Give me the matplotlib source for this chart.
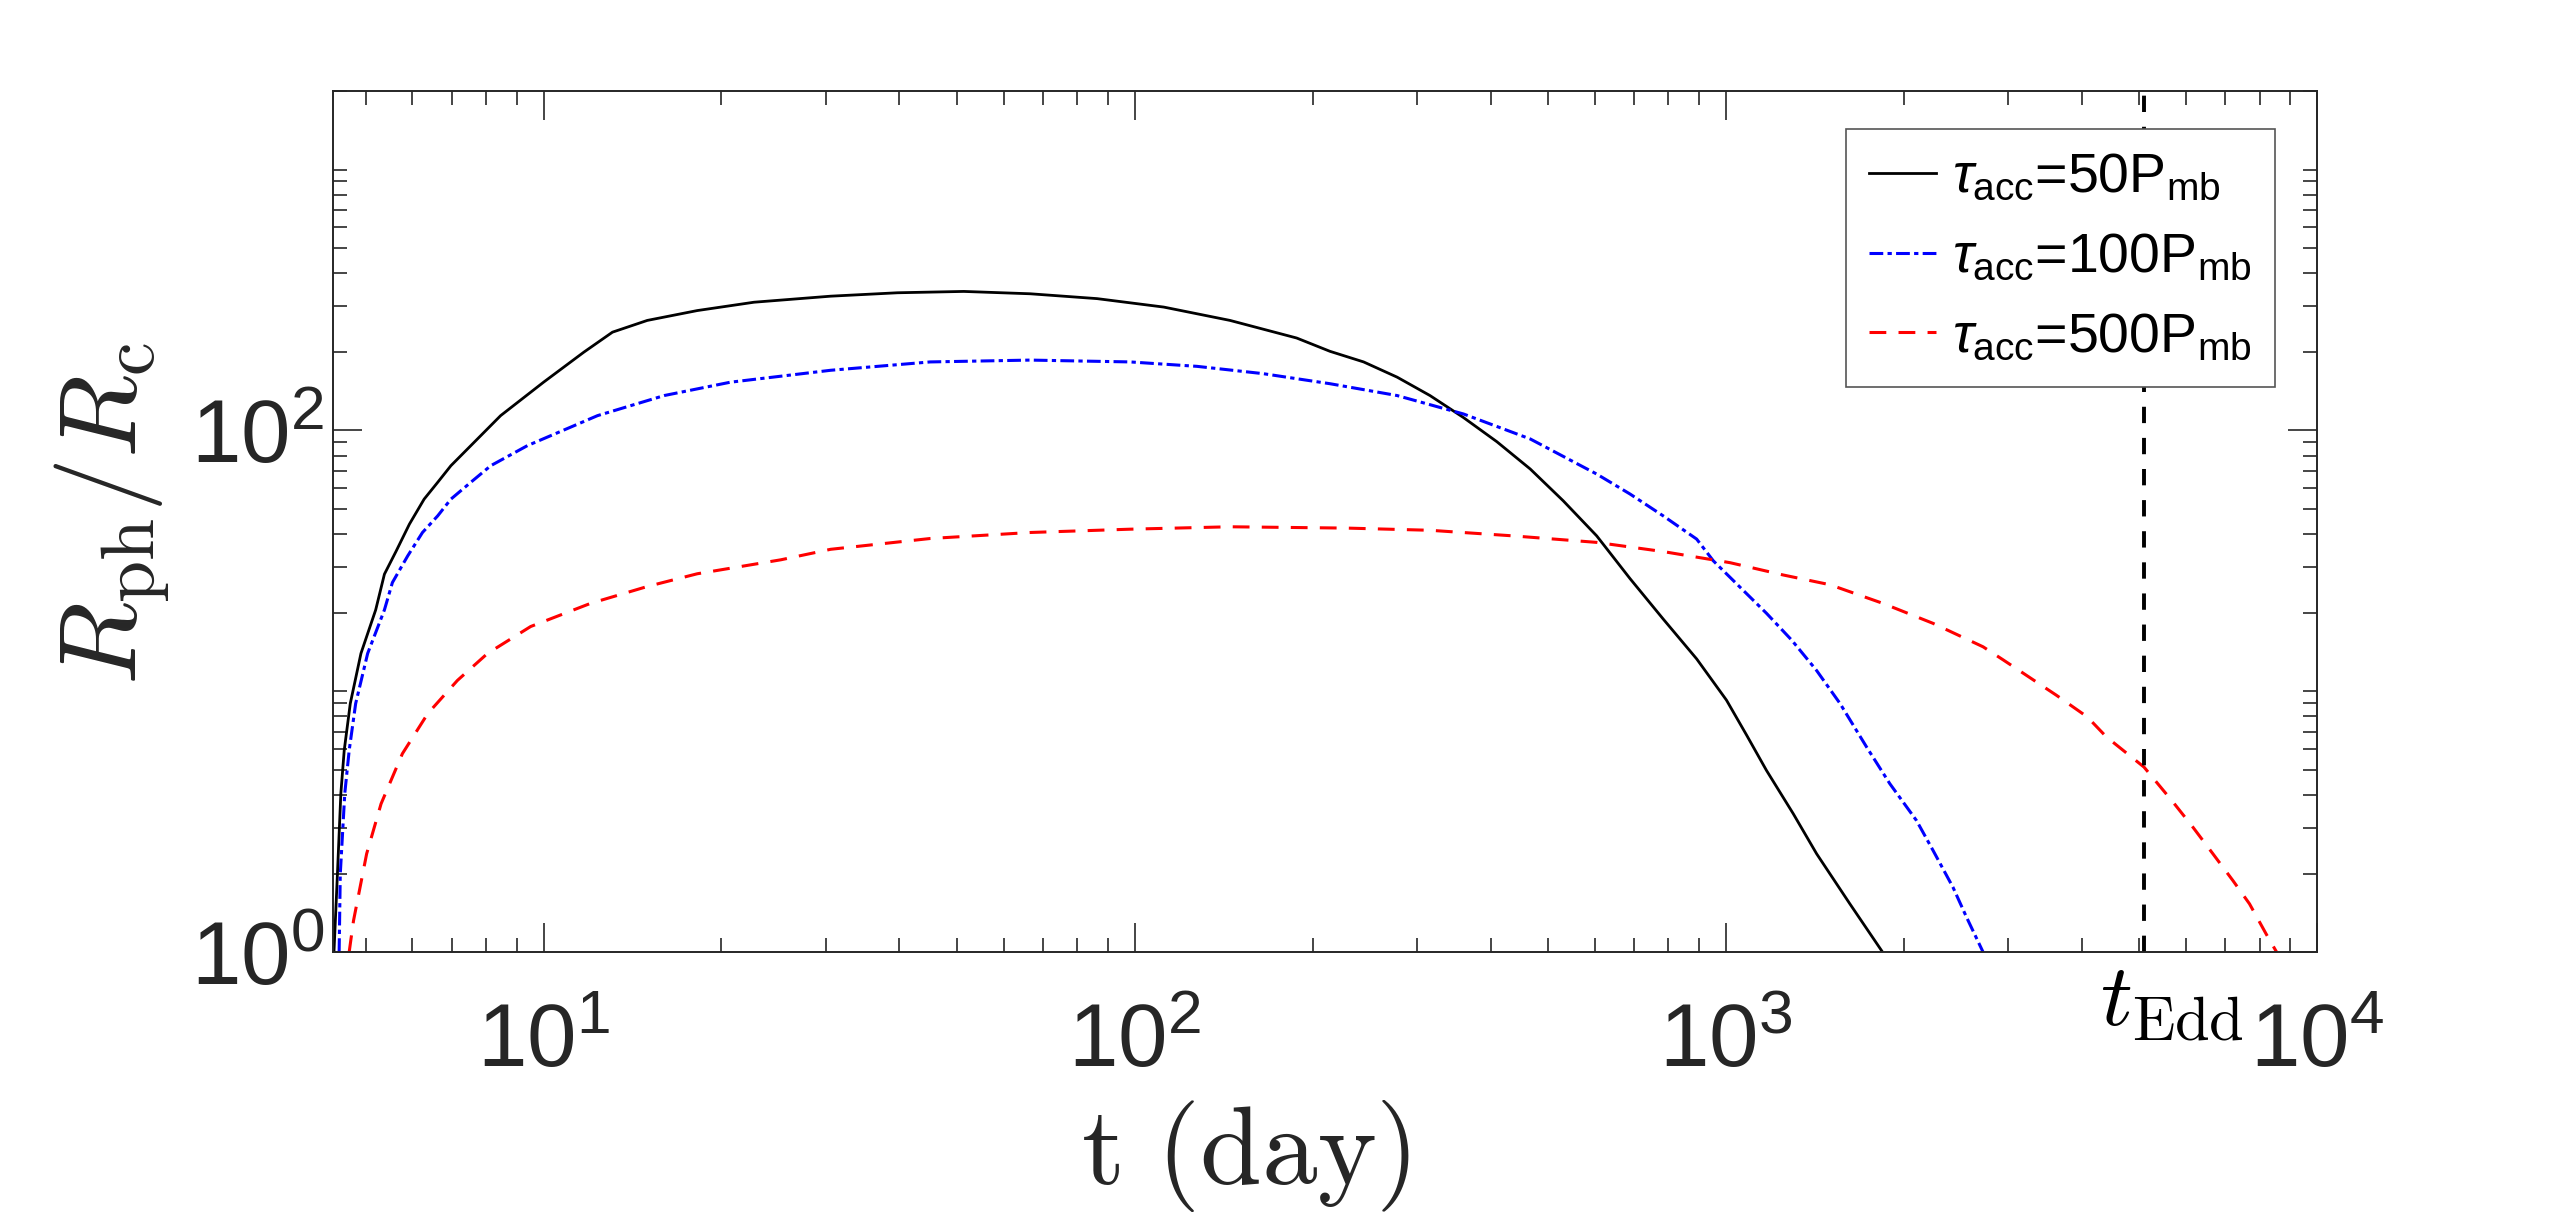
import matplotlib
matplotlib.use('Agg')
import matplotlib.pyplot as plt
import numpy as np
from matplotlib.ticker import FixedLocator, LogLocator, NullFormatter

plt.rcParams['font.family'] = ['Liberation Sans', 'DejaVu Sans']
plt.rcParams['mathtext.fontset'] = 'custom'
plt.rcParams['mathtext.rm'] = 'Liberation Sans'
plt.rcParams['mathtext.it'] = 'Liberation Sans:italic'
plt.rcParams['mathtext.bf'] = 'Liberation Sans:bold'

# values (t in days, R_ph/R_c)
t_50 = [4.42, 4.48, 4.54, 4.60, 4.71, 4.91, 5.20, 5.38, 5.63, 5.93, 6.28, 6.62, 6.97, 8.46,
        10.0, 11.7, 13.08, 14.98, 18.2, 22.7, 30.6, 39.7, 51.4, 66.6, 86.4, 112, 145, 188,
        214, 244, 278, 316, 360, 410, 467, 531, 605, 689, 784, 893, 1003, 1085, 1172, 1301,
        1425, 1622, 1842]
r_50 = [1.0, 1.99, 4.05, 5.93, 8.97, 13.96, 20.5, 28.1, 34.4, 43.7, 54.5, 63.2, 73.2, 113.9,
        153, 199.5, 238, 264, 288, 310, 327, 337, 341, 334, 320, 297, 264, 226,
        201, 183, 160, 136, 112, 90.5, 71.1, 53.7, 39.4, 27.0, 18.9, 13.3, 9.24, 6.78, 4.97, 3.39,
        2.38, 1.53, 1.0]

t_100 = [4.51, 4.53, 4.61, 4.69, 4.81, 5.04, 5.38, 5.55, 5.89, 6.24, 6.62, 6.97, 7.53, 8.14,
         9.39, 12.34, 16.0, 20.7, 30.6, 45.1, 66.6, 98.3, 127.5, 165, 214, 278, 360, 467,
         605, 689, 784, 893, 953, 1172, 1293, 1425, 1561, 1731, 1895, 2103, 2243, 2424, 2555,
         2725]
r_100 = [1.0, 1.99, 4.05, 5.93, 8.97, 13.96, 20.5, 26.1, 33.0, 40.6, 47.0, 54.5, 63.2, 73.2,
         87.4, 113.9, 136, 153, 170, 183, 186, 183, 176, 165, 151, 136, 115.6, 92.7,
         68, 57.0, 47.0, 38.3, 31.6, 19.9, 15.7, 12.0, 8.97, 6.11, 4.42, 3.19, 2.45, 1.77, 1.36,
         1.0]

t_500 = [4.69, 4.77, 5.02, 5.31, 5.77, 6.37, 7.15, 8.04, 9.51, 12.0, 14.98, 18.2, 25.2, 30.6,
         45.1, 66.6, 98.3, 145, 229, 316, 437, 605, 784, 1017, 1251, 1501, 1846, 2243, 2725,
         2945, 3626, 4090, 4406, 5100, 5710, 6172, 6672, 7211, 7694, 8214, 8550]
r_500 = [1.0, 1.32, 2.38, 3.70, 5.76, 8.21, 11.0, 13.96, 17.7, 21.7, 25.2, 28.2, 31.9, 35.0,
         38.5, 40.6, 41.8, 42.7, 42.2, 41.4, 39.4, 37.2, 34.3, 31.1, 27.9, 25.6, 21.7, 18.2, 14.8,
         13.2, 9.65, 7.97, 6.68, 5.12, 3.76, 3.01, 2.38, 1.88, 1.53, 1.17, 1.0]

t_edd = 5100
labels = [r'$\tau_{\rm acc}$=50P$_{\rm mb}$',
          r'$\tau_{\rm acc}$=100P$_{\rm mb}$',
          r'$\tau_{\rm acc}$=500P$_{\rm mb}$']

fig = plt.figure(figsize=(25.6, 12.14), dpi=100)
ax = fig.add_axes([0.130, 0.2158, 0.775, 0.7092])

ax.plot(t_50, r_50, color='black', lw=2.0, label=labels[0])
ax.plot(t_100, r_100, color='#0000ff', lw=2.2, dashes=(4.5, 1.4, 1.4, 1.4), label=labels[1])
ax.plot(t_500, r_500, color='#ff0000', lw=2.2, dashes=(5.5, 4.0), label=labels[2])
ax.axvline(t_edd, color='black', lw=2.8, dashes=(4.2, 3.8))

ax.set_xscale('log')
ax.set_yscale('log')
ax.set_xlim(4.4, 1e4)
ax.set_ylim(1, 2000)

ax.xaxis.set_major_locator(FixedLocator([10, 100, 1000, 10000]))
ax.set_xticklabels([r'$\mathregular{10^{1}}$', r'$\mathregular{10^{2}}$',
                    r'$\mathregular{10^{3}}$', r'$\mathregular{10^{4}}$'])
ax.xaxis.set_minor_locator(LogLocator(base=10, subs=np.arange(2, 10), numticks=50))
ax.xaxis.set_minor_formatter(NullFormatter())

ax.yaxis.set_major_locator(FixedLocator([1, 100]))
ax.set_yticklabels([r'$\mathregular{10^{0}}$', r'$\mathregular{10^{2}}$'])
ax.yaxis.set_minor_locator(LogLocator(base=10, subs=np.arange(1, 10), numticks=50))
ax.yaxis.set_minor_formatter(NullFormatter())

ec = '#262626'
for s in ax.spines.values():
    s.set_linewidth(1.4)
    s.set_color(ec)
ax.tick_params(which='both', direction='in', top=True, right=True, color=ec, width=1.2)
ax.tick_params(which='major', length=21, labelsize=64, labelcolor=ec)
ax.tick_params(which='minor', length=10)
ax.tick_params(axis='x', which='major', pad=36)
ax.tick_params(axis='y', which='major', pad=6)

ax.set_xlabel(r'$\mathrm{t\ (day)}$', fontsize=80, math_fontfamily='cm', color=ec)
ax.xaxis.set_label_coords(0.46, -0.17)
ax.set_ylabel(r'$R_{\rm ph}/R_{\rm c}$', fontsize=78, math_fontfamily='cm', color=ec)
ax.yaxis.set_label_coords(-0.081, 0.51)

ax.annotate(r'$t_{\rm Edd}$', xy=(t_edd, 0), xycoords=ax.get_xaxis_transform(),
            xytext=(20, -6), textcoords='offset points', ha='center', va='top',
            fontsize=64, math_fontfamily='cm', annotation_clip=False)

leg = ax.legend(loc='upper right', bbox_to_anchor=(0.979, 0.956), borderaxespad=0,
                fontsize=40, handlelength=1.2, handletextpad=0.3, labelspacing=0.5,
                borderpad=0.42, fancybox=False, framealpha=1)
leg.get_frame().set_edgecolor('#555555')
leg.get_frame().set_linewidth(1.2)

fig.savefig('out.png', dpi=100)
